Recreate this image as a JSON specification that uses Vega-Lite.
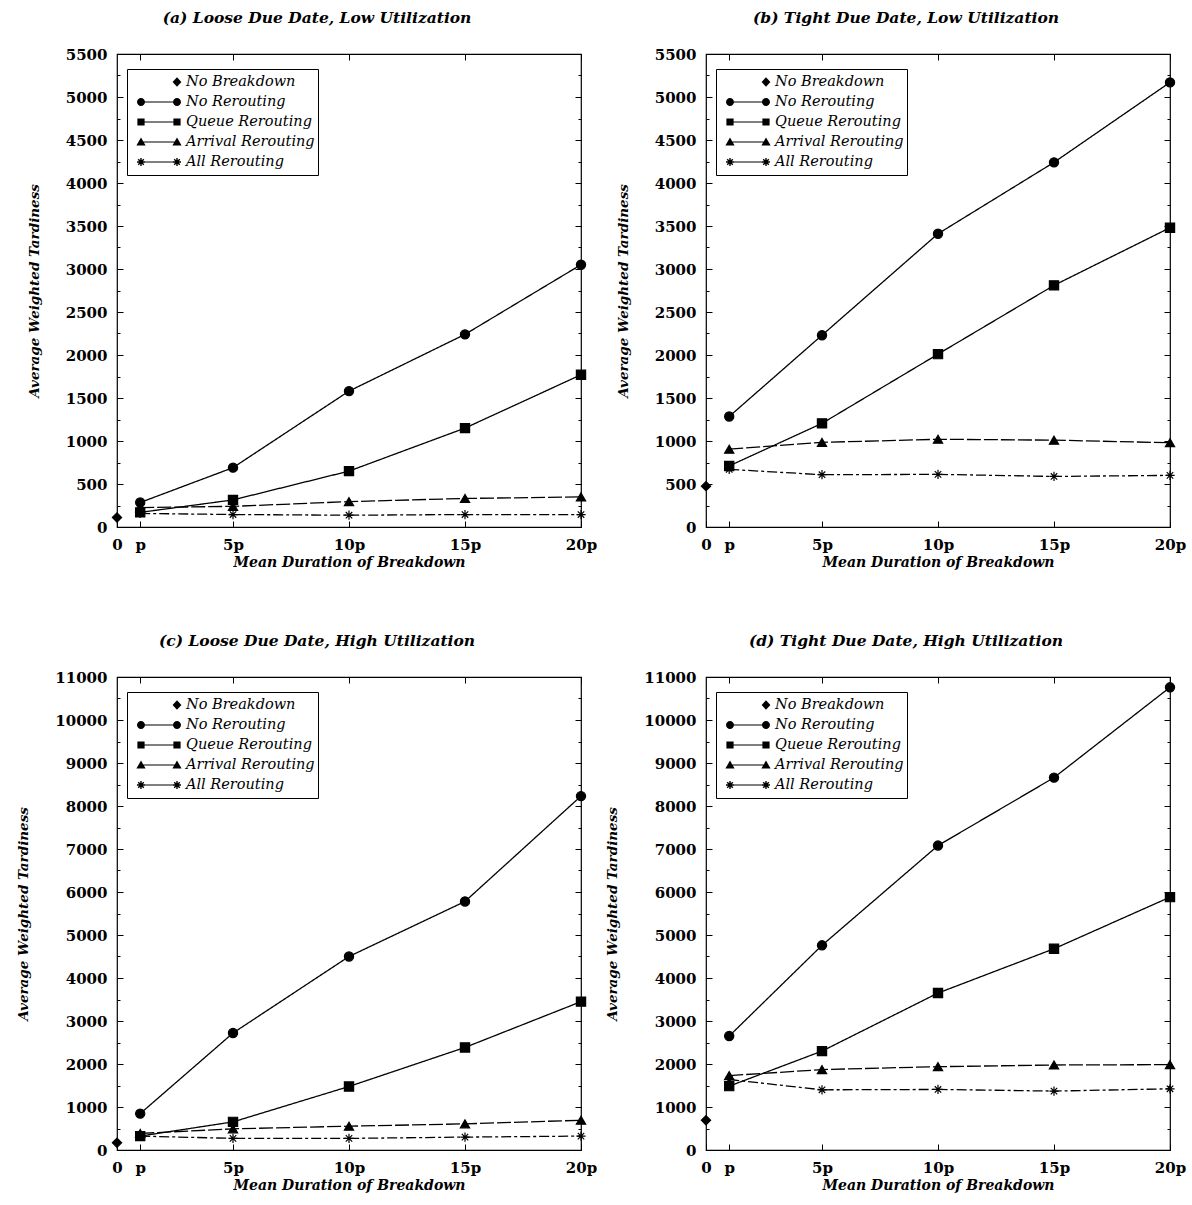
{
  "$schema": "https://vega.github.io/schema/vega-lite/v6.json",
  "padding": {"left": 16, "top": 9, "right": 5, "bottom": 5},
  "datasets": {
    "d": [
      {"panel": "a", "series": "No Breakdown", "x": 0, "y": 110},
      {"panel": "a", "series": "No Rerouting", "x": 1, "y": 285},
      {"panel": "a", "series": "No Rerouting", "x": 5, "y": 690},
      {"panel": "a", "series": "No Rerouting", "x": 10, "y": 1580},
      {"panel": "a", "series": "No Rerouting", "x": 15, "y": 2240},
      {"panel": "a", "series": "No Rerouting", "x": 20, "y": 3050},
      {"panel": "a", "series": "Queue Rerouting", "x": 1, "y": 170},
      {"panel": "a", "series": "Queue Rerouting", "x": 5, "y": 315},
      {"panel": "a", "series": "Queue Rerouting", "x": 10, "y": 650},
      {"panel": "a", "series": "Queue Rerouting", "x": 15, "y": 1150},
      {"panel": "a", "series": "Queue Rerouting", "x": 20, "y": 1770},
      {"panel": "a", "series": "Arrival Rerouting", "x": 1, "y": 225},
      {"panel": "a", "series": "Arrival Rerouting", "x": 5, "y": 240},
      {"panel": "a", "series": "Arrival Rerouting", "x": 10, "y": 295},
      {"panel": "a", "series": "Arrival Rerouting", "x": 15, "y": 332},
      {"panel": "a", "series": "Arrival Rerouting", "x": 20, "y": 350},
      {"panel": "a", "series": "All Rerouting", "x": 1, "y": 158},
      {"panel": "a", "series": "All Rerouting", "x": 5, "y": 145},
      {"panel": "a", "series": "All Rerouting", "x": 10, "y": 137},
      {"panel": "a", "series": "All Rerouting", "x": 15, "y": 145},
      {"panel": "a", "series": "All Rerouting", "x": 20, "y": 145},

      {"panel": "b", "series": "No Breakdown", "x": 0, "y": 475},
      {"panel": "b", "series": "No Rerouting", "x": 1, "y": 1285},
      {"panel": "b", "series": "No Rerouting", "x": 5, "y": 2230},
      {"panel": "b", "series": "No Rerouting", "x": 10, "y": 3410},
      {"panel": "b", "series": "No Rerouting", "x": 15, "y": 4240},
      {"panel": "b", "series": "No Rerouting", "x": 20, "y": 5170},
      {"panel": "b", "series": "Queue Rerouting", "x": 1, "y": 710},
      {"panel": "b", "series": "Queue Rerouting", "x": 5, "y": 1205},
      {"panel": "b", "series": "Queue Rerouting", "x": 10, "y": 2010},
      {"panel": "b", "series": "Queue Rerouting", "x": 15, "y": 2810},
      {"panel": "b", "series": "Queue Rerouting", "x": 20, "y": 3480},
      {"panel": "b", "series": "Arrival Rerouting", "x": 1, "y": 905},
      {"panel": "b", "series": "Arrival Rerouting", "x": 5, "y": 984},
      {"panel": "b", "series": "Arrival Rerouting", "x": 10, "y": 1020},
      {"panel": "b", "series": "Arrival Rerouting", "x": 15, "y": 1010},
      {"panel": "b", "series": "Arrival Rerouting", "x": 20, "y": 980},
      {"panel": "b", "series": "All Rerouting", "x": 1, "y": 670},
      {"panel": "b", "series": "All Rerouting", "x": 5, "y": 608},
      {"panel": "b", "series": "All Rerouting", "x": 10, "y": 612},
      {"panel": "b", "series": "All Rerouting", "x": 15, "y": 588},
      {"panel": "b", "series": "All Rerouting", "x": 20, "y": 600},

      {"panel": "c", "series": "No Breakdown", "x": 0, "y": 170},
      {"panel": "c", "series": "No Rerouting", "x": 1, "y": 846},
      {"panel": "c", "series": "No Rerouting", "x": 5, "y": 2720},
      {"panel": "c", "series": "No Rerouting", "x": 10, "y": 4500},
      {"panel": "c", "series": "No Rerouting", "x": 15, "y": 5780},
      {"panel": "c", "series": "No Rerouting", "x": 20, "y": 8230},
      {"panel": "c", "series": "Queue Rerouting", "x": 1, "y": 323},
      {"panel": "c", "series": "Queue Rerouting", "x": 5, "y": 654},
      {"panel": "c", "series": "Queue Rerouting", "x": 10, "y": 1477},
      {"panel": "c", "series": "Queue Rerouting", "x": 15, "y": 2385},
      {"panel": "c", "series": "Queue Rerouting", "x": 20, "y": 3450},
      {"panel": "c", "series": "Arrival Rerouting", "x": 1, "y": 385},
      {"panel": "c", "series": "Arrival Rerouting", "x": 5, "y": 492},
      {"panel": "c", "series": "Arrival Rerouting", "x": 10, "y": 554},
      {"panel": "c", "series": "Arrival Rerouting", "x": 15, "y": 608},
      {"panel": "c", "series": "Arrival Rerouting", "x": 20, "y": 692},
      {"panel": "c", "series": "All Rerouting", "x": 1, "y": 323},
      {"panel": "c", "series": "All Rerouting", "x": 5, "y": 270},
      {"panel": "c", "series": "All Rerouting", "x": 10, "y": 270},
      {"panel": "c", "series": "All Rerouting", "x": 15, "y": 300},
      {"panel": "c", "series": "All Rerouting", "x": 20, "y": 323},

      {"panel": "d", "series": "No Breakdown", "x": 0, "y": 692},
      {"panel": "d", "series": "No Rerouting", "x": 1, "y": 2650},
      {"panel": "d", "series": "No Rerouting", "x": 5, "y": 4760},
      {"panel": "d", "series": "No Rerouting", "x": 10, "y": 7080},
      {"panel": "d", "series": "No Rerouting", "x": 15, "y": 8660},
      {"panel": "d", "series": "No Rerouting", "x": 20, "y": 10760},
      {"panel": "d", "series": "Queue Rerouting", "x": 1, "y": 1485},
      {"panel": "d", "series": "Queue Rerouting", "x": 5, "y": 2300},
      {"panel": "d", "series": "Queue Rerouting", "x": 10, "y": 3650},
      {"panel": "d", "series": "Queue Rerouting", "x": 15, "y": 4680},
      {"panel": "d", "series": "Queue Rerouting", "x": 20, "y": 5880},
      {"panel": "d", "series": "Arrival Rerouting", "x": 1, "y": 1730},
      {"panel": "d", "series": "Arrival Rerouting", "x": 5, "y": 1870},
      {"panel": "d", "series": "Arrival Rerouting", "x": 10, "y": 1938},
      {"panel": "d", "series": "Arrival Rerouting", "x": 15, "y": 1977},
      {"panel": "d", "series": "Arrival Rerouting", "x": 20, "y": 1985},
      {"panel": "d", "series": "All Rerouting", "x": 1, "y": 1640},
      {"panel": "d", "series": "All Rerouting", "x": 5, "y": 1400},
      {"panel": "d", "series": "All Rerouting", "x": 10, "y": 1408},
      {"panel": "d", "series": "All Rerouting", "x": 15, "y": 1370},
      {"panel": "d", "series": "All Rerouting", "x": 20, "y": 1423}
    ]
  },
  "columns": 2,
  "spacing": {"row": 62, "column": 7},
  "resolve": {
    "scale": {"x": "independent", "y": "independent", "shape": "independent", "strokeDash": "independent"},
    "legend": {"shape": "independent", "strokeDash": "independent"}
  },
  "concat": [
    {
      "width": 464, "height": 473,
      "title": {"text": "(a) Loose Due Date, Low Utilization", "dx": -32},
      "data": {"name": "d"},
      "transform": [{"filter": "datum.panel == 'a'"}],
      "layer": [
        {
          "mark": {"type": "line", "color": "black", "strokeWidth": 1.3},
          "transform": [{"filter": "datum.series != 'No Breakdown'"}],
          "encoding": {
            "x": {"field": "x", "type": "quantitative", "scale": {"domain": [0, 20], "nice": false, "zero": false},
                  "axis": {"values": [0, 1, 5, 10, 15, 20], "labelExpr": "datum.value == 0 ? '0' : datum.value == 1 ? 'p' : datum.value + 'p'", "tickSize": -6, "labelPadding": 16, "title": "Mean Duration of Breakdown"}},
            "y": {"field": "y", "type": "quantitative", "scale": {"domain": [0, 5500], "nice": false},
                  "axis": {"values": [0,250,500,750,1000,1250,1500,1750,2000,2250,2500,2750,3000,3250,3500,3750,4000,4250,4500,4750,5000,5250,5500], "format": "d", "labelExpr": "datum.value % 500 == 0 ? datum.label : ''", "tickSize": {"condition": {"test": "datum.value % 500 == 0", "value": -6}, "value": -3}, "labelPadding": 16, "title": "Average Weighted Tardiness"}},
            "strokeDash": {"field": "series", "type": "nominal", "scale": {"domain": ["No Rerouting", "Queue Rerouting", "Arrival Rerouting", "All Rerouting"], "range": [[1, 0], [1, 0], [14, 3], [10, 3, 3, 3]]}, "legend": null}
          }
        },
        {
          "mark": {"type": "point", "filled": true, "color": "black", "stroke": "black", "strokeWidth": 1.2, "size": 85, "opacity": 1},
          "encoding": {
            "x": {"field": "x", "type": "quantitative", "axis": null},
            "y": {"field": "y", "type": "quantitative", "axis": null},
            "shape": {"field": "series", "type": "nominal", "scale": {"domain": ["No Breakdown", "No Rerouting", "Queue Rerouting", "Arrival Rerouting", "All Rerouting"], "range": ["diamond", "circle", "square", "triangle-up", "M-1,0L1,0M0,-1L0,1M-0.7,-0.7L0.7,0.7M-0.7,0.7L0.7,-0.7"]}, "legend": null}
          }
        },
        {
          "mark": {"type": "point", "filled": true, "color": "black"},
          "transform": [{"filter": "datum.x < 0"}],
          "encoding": {
            "x": {"field": "x", "type": "quantitative", "axis": {"orient": "top", "labels": false, "title": null, "values": [1, 5, 10, 15, 20], "tickSize": -6}},
            "y": {"field": "y", "type": "quantitative", "axis": {"orient": "right", "labels": false, "title": null, "values": [0,250,500,750,1000,1250,1500,1750,2000,2250,2500,2750,3000,3250,3500,3750,4000,4250,4500,4750,5000,5250,5500], "tickSize": {"condition": {"test": "datum.value % 500 == 0", "value": -6}, "value": -3}}},
            "shape": {"field": "series", "type": "nominal", "scale": {"domain": ["No Breakdown", "No Rerouting", "Queue Rerouting", "Arrival Rerouting", "All Rerouting"], "range": [
              "M0.9,-0.24L1.12,0L0.9,0.24L0.68,0Z",
              "M-0.8,-0.03L0.8,-0.03L0.8,0.03L-0.8,0.03ZM-1.1,0A0.2,0.2,0,1,1,-0.7,0A0.2,0.2,0,1,1,-1.1,0ZM0.7,0A0.2,0.2,0,1,1,1.1,0A0.2,0.2,0,1,1,0.7,0Z",
              "M-0.8,-0.03L0.8,-0.03L0.8,0.03L-0.8,0.03ZM-1.08,-0.18L-0.72,-0.18L-0.72,0.18L-1.08,0.18ZM0.72,-0.18L1.08,-0.18L1.08,0.18L0.72,0.18Z",
              "M-0.8,-0.03L0.8,-0.03L0.8,0.03L-0.8,0.03ZM-0.9,-0.22L-0.67,0.17L-1.13,0.17ZM0.9,-0.22L1.13,0.17L0.67,0.17Z",
              "M-0.8,-0.03L0.8,-0.03L0.8,0.03L-0.8,0.03ZM-1.1,-0.035L-0.7,-0.035L-0.7,0.035L-1.1,0.035ZM-0.935,-0.2L-0.865,-0.2L-0.865,0.2L-0.935,0.2ZM-1.015,-0.165L-0.735,0.115L-0.785,0.165L-1.065,-0.115ZM-1.065,0.115L-0.785,-0.165L-0.735,-0.115L-1.015,0.165ZM0.7,-0.035L1.1,-0.035L1.1,0.035L0.7,0.035ZM0.865,-0.2L0.935,-0.2L0.935,0.2L0.865,0.2ZM0.785,-0.165L1.065,0.115L1.015,0.165L0.735,-0.115ZM0.735,0.115L1.015,-0.165L1.065,-0.115L0.785,0.165Z"
            ]}, "legend": {"orient": "none", "legendX": 10, "legendY": 15}}
          }
        }
      ],
      "resolve": {"scale": {"shape": "independent"}, "axis": {"x": "independent", "y": "independent"}}
    },
    {
      "width": 464, "height": 473,
      "title": {"text": "(b) Tight Due Date, Low Utilization", "dx": -32},
      "data": {"name": "d"},
      "transform": [{"filter": "datum.panel == 'b'"}],
      "layer": [
        {
          "mark": {"type": "line", "color": "black", "strokeWidth": 1.3},
          "transform": [{"filter": "datum.series != 'No Breakdown'"}],
          "encoding": {
            "x": {"field": "x", "type": "quantitative", "scale": {"domain": [0, 20], "nice": false, "zero": false},
                  "axis": {"values": [0, 1, 5, 10, 15, 20], "labelExpr": "datum.value == 0 ? '0' : datum.value == 1 ? 'p' : datum.value + 'p'", "tickSize": -6, "labelPadding": 16, "title": "Mean Duration of Breakdown"}},
            "y": {"field": "y", "type": "quantitative", "scale": {"domain": [0, 5500], "nice": false},
                  "axis": {"values": [0,250,500,750,1000,1250,1500,1750,2000,2250,2500,2750,3000,3250,3500,3750,4000,4250,4500,4750,5000,5250,5500], "format": "d", "labelExpr": "datum.value % 500 == 0 ? datum.label : ''", "tickSize": {"condition": {"test": "datum.value % 500 == 0", "value": -6}, "value": -3}, "labelPadding": 16, "title": "Average Weighted Tardiness"}},
            "strokeDash": {"field": "series", "type": "nominal", "scale": {"domain": ["No Rerouting", "Queue Rerouting", "Arrival Rerouting", "All Rerouting"], "range": [[1, 0], [1, 0], [14, 3], [10, 3, 3, 3]]}, "legend": null}
          }
        },
        {
          "mark": {"type": "point", "filled": true, "color": "black", "stroke": "black", "strokeWidth": 1.2, "size": 85, "opacity": 1},
          "encoding": {
            "x": {"field": "x", "type": "quantitative", "axis": null},
            "y": {"field": "y", "type": "quantitative", "axis": null},
            "shape": {"field": "series", "type": "nominal", "scale": {"domain": ["No Breakdown", "No Rerouting", "Queue Rerouting", "Arrival Rerouting", "All Rerouting"], "range": ["diamond", "circle", "square", "triangle-up", "M-1,0L1,0M0,-1L0,1M-0.7,-0.7L0.7,0.7M-0.7,0.7L0.7,-0.7"]}, "legend": null}
          }
        },
        {
          "mark": {"type": "point", "filled": true, "color": "black"},
          "transform": [{"filter": "datum.x < 0"}],
          "encoding": {
            "x": {"field": "x", "type": "quantitative", "axis": {"orient": "top", "labels": false, "title": null, "values": [1, 5, 10, 15, 20], "tickSize": -6}},
            "y": {"field": "y", "type": "quantitative", "axis": {"orient": "right", "labels": false, "title": null, "values": [0,250,500,750,1000,1250,1500,1750,2000,2250,2500,2750,3000,3250,3500,3750,4000,4250,4500,4750,5000,5250,5500], "tickSize": {"condition": {"test": "datum.value % 500 == 0", "value": -6}, "value": -3}}},
            "shape": {"field": "series", "type": "nominal", "scale": {"domain": ["No Breakdown", "No Rerouting", "Queue Rerouting", "Arrival Rerouting", "All Rerouting"], "range": [
              "M0.9,-0.24L1.12,0L0.9,0.24L0.68,0Z",
              "M-0.8,-0.03L0.8,-0.03L0.8,0.03L-0.8,0.03ZM-1.1,0A0.2,0.2,0,1,1,-0.7,0A0.2,0.2,0,1,1,-1.1,0ZM0.7,0A0.2,0.2,0,1,1,1.1,0A0.2,0.2,0,1,1,0.7,0Z",
              "M-0.8,-0.03L0.8,-0.03L0.8,0.03L-0.8,0.03ZM-1.08,-0.18L-0.72,-0.18L-0.72,0.18L-1.08,0.18ZM0.72,-0.18L1.08,-0.18L1.08,0.18L0.72,0.18Z",
              "M-0.8,-0.03L0.8,-0.03L0.8,0.03L-0.8,0.03ZM-0.9,-0.22L-0.67,0.17L-1.13,0.17ZM0.9,-0.22L1.13,0.17L0.67,0.17Z",
              "M-0.8,-0.03L0.8,-0.03L0.8,0.03L-0.8,0.03ZM-1.1,-0.035L-0.7,-0.035L-0.7,0.035L-1.1,0.035ZM-0.935,-0.2L-0.865,-0.2L-0.865,0.2L-0.935,0.2ZM-1.015,-0.165L-0.735,0.115L-0.785,0.165L-1.065,-0.115ZM-1.065,0.115L-0.785,-0.165L-0.735,-0.115L-1.015,0.165ZM0.7,-0.035L1.1,-0.035L1.1,0.035L0.7,0.035ZM0.865,-0.2L0.935,-0.2L0.935,0.2L0.865,0.2ZM0.785,-0.165L1.065,0.115L1.015,0.165L0.735,-0.115ZM0.735,0.115L1.015,-0.165L1.065,-0.115L0.785,0.165Z"
            ]}, "legend": {"orient": "none", "legendX": 10, "legendY": 15}}
          }
        }
      ],
      "resolve": {"scale": {"shape": "independent"}, "axis": {"x": "independent", "y": "independent"}}
    },
    {
      "width": 464, "height": 473,
      "title": {"text": "(c) Loose Due Date, High Utilization", "dx": -32},
      "data": {"name": "d"},
      "transform": [{"filter": "datum.panel == 'c'"}],
      "layer": [
        {
          "mark": {"type": "line", "color": "black", "strokeWidth": 1.3},
          "transform": [{"filter": "datum.series != 'No Breakdown'"}],
          "encoding": {
            "x": {"field": "x", "type": "quantitative", "scale": {"domain": [0, 20], "nice": false, "zero": false},
                  "axis": {"values": [0, 1, 5, 10, 15, 20], "labelExpr": "datum.value == 0 ? '0' : datum.value == 1 ? 'p' : datum.value + 'p'", "tickSize": -6, "labelPadding": 16, "title": "Mean Duration of Breakdown"}},
            "y": {"field": "y", "type": "quantitative", "scale": {"domain": [0, 11000], "nice": false},
                  "axis": {"values": [0,500,1000,1500,2000,2500,3000,3500,4000,4500,5000,5500,6000,6500,7000,7500,8000,8500,9000,9500,10000,10500,11000], "format": "d", "labelExpr": "datum.value % 1000 == 0 ? datum.label : ''", "tickSize": {"condition": {"test": "datum.value % 1000 == 0", "value": -6}, "value": -3}, "labelPadding": 16, "title": "Average Weighted Tardiness"}},
            "strokeDash": {"field": "series", "type": "nominal", "scale": {"domain": ["No Rerouting", "Queue Rerouting", "Arrival Rerouting", "All Rerouting"], "range": [[1, 0], [1, 0], [14, 3], [10, 3, 3, 3]]}, "legend": null}
          }
        },
        {
          "mark": {"type": "point", "filled": true, "color": "black", "stroke": "black", "strokeWidth": 1.2, "size": 85, "opacity": 1},
          "encoding": {
            "x": {"field": "x", "type": "quantitative", "axis": null},
            "y": {"field": "y", "type": "quantitative", "axis": null},
            "shape": {"field": "series", "type": "nominal", "scale": {"domain": ["No Breakdown", "No Rerouting", "Queue Rerouting", "Arrival Rerouting", "All Rerouting"], "range": ["diamond", "circle", "square", "triangle-up", "M-1,0L1,0M0,-1L0,1M-0.7,-0.7L0.7,0.7M-0.7,0.7L0.7,-0.7"]}, "legend": null}
          }
        },
        {
          "mark": {"type": "point", "filled": true, "color": "black"},
          "transform": [{"filter": "datum.x < 0"}],
          "encoding": {
            "x": {"field": "x", "type": "quantitative", "axis": {"orient": "top", "labels": false, "title": null, "values": [1, 5, 10, 15, 20], "tickSize": -6}},
            "y": {"field": "y", "type": "quantitative", "axis": {"orient": "right", "labels": false, "title": null, "values": [0,500,1000,1500,2000,2500,3000,3500,4000,4500,5000,5500,6000,6500,7000,7500,8000,8500,9000,9500,10000,10500,11000], "tickSize": {"condition": {"test": "datum.value % 1000 == 0", "value": -6}, "value": -3}}},
            "shape": {"field": "series", "type": "nominal", "scale": {"domain": ["No Breakdown", "No Rerouting", "Queue Rerouting", "Arrival Rerouting", "All Rerouting"], "range": [
              "M0.9,-0.24L1.12,0L0.9,0.24L0.68,0Z",
              "M-0.8,-0.03L0.8,-0.03L0.8,0.03L-0.8,0.03ZM-1.1,0A0.2,0.2,0,1,1,-0.7,0A0.2,0.2,0,1,1,-1.1,0ZM0.7,0A0.2,0.2,0,1,1,1.1,0A0.2,0.2,0,1,1,0.7,0Z",
              "M-0.8,-0.03L0.8,-0.03L0.8,0.03L-0.8,0.03ZM-1.08,-0.18L-0.72,-0.18L-0.72,0.18L-1.08,0.18ZM0.72,-0.18L1.08,-0.18L1.08,0.18L0.72,0.18Z",
              "M-0.8,-0.03L0.8,-0.03L0.8,0.03L-0.8,0.03ZM-0.9,-0.22L-0.67,0.17L-1.13,0.17ZM0.9,-0.22L1.13,0.17L0.67,0.17Z",
              "M-0.8,-0.03L0.8,-0.03L0.8,0.03L-0.8,0.03ZM-1.1,-0.035L-0.7,-0.035L-0.7,0.035L-1.1,0.035ZM-0.935,-0.2L-0.865,-0.2L-0.865,0.2L-0.935,0.2ZM-1.015,-0.165L-0.735,0.115L-0.785,0.165L-1.065,-0.115ZM-1.065,0.115L-0.785,-0.165L-0.735,-0.115L-1.015,0.165ZM0.7,-0.035L1.1,-0.035L1.1,0.035L0.7,0.035ZM0.865,-0.2L0.935,-0.2L0.935,0.2L0.865,0.2ZM0.785,-0.165L1.065,0.115L1.015,0.165L0.735,-0.115ZM0.735,0.115L1.015,-0.165L1.065,-0.115L0.785,0.165Z"
            ]}, "legend": {"orient": "none", "legendX": 10, "legendY": 15}}
          }
        }
      ],
      "resolve": {"scale": {"shape": "independent"}, "axis": {"x": "independent", "y": "independent"}}
    },
    {
      "width": 464, "height": 473,
      "title": {"text": "(d) Tight Due Date, High Utilization", "dx": -32},
      "data": {"name": "d"},
      "transform": [{"filter": "datum.panel == 'd'"}],
      "layer": [
        {
          "mark": {"type": "line", "color": "black", "strokeWidth": 1.3},
          "transform": [{"filter": "datum.series != 'No Breakdown'"}],
          "encoding": {
            "x": {"field": "x", "type": "quantitative", "scale": {"domain": [0, 20], "nice": false, "zero": false},
                  "axis": {"values": [0, 1, 5, 10, 15, 20], "labelExpr": "datum.value == 0 ? '0' : datum.value == 1 ? 'p' : datum.value + 'p'", "tickSize": -6, "labelPadding": 16, "title": "Mean Duration of Breakdown"}},
            "y": {"field": "y", "type": "quantitative", "scale": {"domain": [0, 11000], "nice": false},
                  "axis": {"values": [0,500,1000,1500,2000,2500,3000,3500,4000,4500,5000,5500,6000,6500,7000,7500,8000,8500,9000,9500,10000,10500,11000], "format": "d", "labelExpr": "datum.value % 1000 == 0 ? datum.label : ''", "tickSize": {"condition": {"test": "datum.value % 1000 == 0", "value": -6}, "value": -3}, "labelPadding": 16, "title": "Average Weighted Tardiness"}},
            "strokeDash": {"field": "series", "type": "nominal", "scale": {"domain": ["No Rerouting", "Queue Rerouting", "Arrival Rerouting", "All Rerouting"], "range": [[1, 0], [1, 0], [14, 3], [10, 3, 3, 3]]}, "legend": null}
          }
        },
        {
          "mark": {"type": "point", "filled": true, "color": "black", "stroke": "black", "strokeWidth": 1.2, "size": 85, "opacity": 1},
          "encoding": {
            "x": {"field": "x", "type": "quantitative", "axis": null},
            "y": {"field": "y", "type": "quantitative", "axis": null},
            "shape": {"field": "series", "type": "nominal", "scale": {"domain": ["No Breakdown", "No Rerouting", "Queue Rerouting", "Arrival Rerouting", "All Rerouting"], "range": ["diamond", "circle", "square", "triangle-up", "M-1,0L1,0M0,-1L0,1M-0.7,-0.7L0.7,0.7M-0.7,0.7L0.7,-0.7"]}, "legend": null}
          }
        },
        {
          "mark": {"type": "point", "filled": true, "color": "black"},
          "transform": [{"filter": "datum.x < 0"}],
          "encoding": {
            "x": {"field": "x", "type": "quantitative", "axis": {"orient": "top", "labels": false, "title": null, "values": [1, 5, 10, 15, 20], "tickSize": -6}},
            "y": {"field": "y", "type": "quantitative", "axis": {"orient": "right", "labels": false, "title": null, "values": [0,500,1000,1500,2000,2500,3000,3500,4000,4500,5000,5500,6000,6500,7000,7500,8000,8500,9000,9500,10000,10500,11000], "tickSize": {"condition": {"test": "datum.value % 1000 == 0", "value": -6}, "value": -3}}},
            "shape": {"field": "series", "type": "nominal", "scale": {"domain": ["No Breakdown", "No Rerouting", "Queue Rerouting", "Arrival Rerouting", "All Rerouting"], "range": [
              "M0.9,-0.24L1.12,0L0.9,0.24L0.68,0Z",
              "M-0.8,-0.03L0.8,-0.03L0.8,0.03L-0.8,0.03ZM-1.1,0A0.2,0.2,0,1,1,-0.7,0A0.2,0.2,0,1,1,-1.1,0ZM0.7,0A0.2,0.2,0,1,1,1.1,0A0.2,0.2,0,1,1,0.7,0Z",
              "M-0.8,-0.03L0.8,-0.03L0.8,0.03L-0.8,0.03ZM-1.08,-0.18L-0.72,-0.18L-0.72,0.18L-1.08,0.18ZM0.72,-0.18L1.08,-0.18L1.08,0.18L0.72,0.18Z",
              "M-0.8,-0.03L0.8,-0.03L0.8,0.03L-0.8,0.03ZM-0.9,-0.22L-0.67,0.17L-1.13,0.17ZM0.9,-0.22L1.13,0.17L0.67,0.17Z",
              "M-0.8,-0.03L0.8,-0.03L0.8,0.03L-0.8,0.03ZM-1.1,-0.035L-0.7,-0.035L-0.7,0.035L-1.1,0.035ZM-0.935,-0.2L-0.865,-0.2L-0.865,0.2L-0.935,0.2ZM-1.015,-0.165L-0.735,0.115L-0.785,0.165L-1.065,-0.115ZM-1.065,0.115L-0.785,-0.165L-0.735,-0.115L-1.015,0.165ZM0.7,-0.035L1.1,-0.035L1.1,0.035L0.7,0.035ZM0.865,-0.2L0.935,-0.2L0.935,0.2L0.865,0.2ZM0.785,-0.165L1.065,0.115L1.015,0.165L0.735,-0.115ZM0.735,0.115L1.015,-0.165L1.065,-0.115L0.785,0.165Z"
            ]}, "legend": {"orient": "none", "legendX": 10, "legendY": 15}}
          }
        }
      ],
      "resolve": {"scale": {"shape": "independent"}, "axis": {"x": "independent", "y": "independent"}}
    }
  ],
  "config": {
    "view": {"stroke": "black", "strokeWidth": 1.2},
    "axis": {"labelFont": "DejaVu Serif", "labelFontSize": 15, "labelFontWeight": "bold", "labelColor": "black", "tickColor": "black", "tickWidth": 1, "grid": false, "domain": false, "titleFont": "DejaVu Serif", "titleFontStyle": "italic", "titleFontWeight": "bold", "titleColor": "black"},
    "axisY": {"titlePadding": 24, "titleFontSize": 13.5},
    "axisX": {"titlePadding": 3, "titleFontSize": 14, "labelFlush": false},
    "title": {"font": "DejaVu Serif", "fontSize": 15.5, "fontStyle": "italic", "fontWeight": "bold", "color": "black", "offset": 21},
    "legend": {"title": null, "strokeColor": "black", "fillColor": "white", "padding": 3, "clipHeight": 20, "rowPadding": 0, "symbolSize": 1600, "symbolOffset": 9, "labelOffset": 7, "symbolOpacity": 1, "symbolFillColor": "black", "symbolStrokeColor": "black", "symbolStrokeWidth": 0, "labelFont": "DejaVu Serif", "labelFontSize": 14.5, "labelFontStyle": "italic", "labelFontWeight": "normal", "labelColor": "black", "labelLimit": 300}
  }
}
